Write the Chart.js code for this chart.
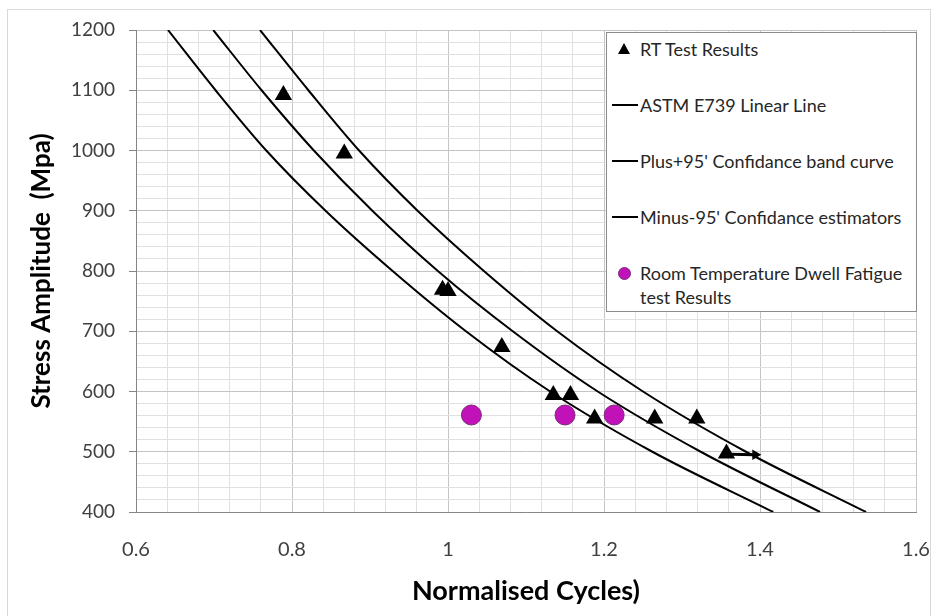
<!DOCTYPE html>
<html>
<head>
<meta charset="utf-8">
<script src="https://cdn.jsdelivr.net/npm/chart.js@4.4.0/dist/chart.umd.min.js"></script>
<style>
  html, body { margin: 0; padding: 0; background: #fff; }
  #wrap { position: relative; width: 933px; height: 616px; overflow: hidden; }
  #frame { position: absolute; left: 7px; top: 9px; width: 922px; height: 640px; border: 1px solid #d9d9d9; }
  #chart { position: absolute; left: 0; top: 0; }
  #legend {
    position: absolute; left: 606px; top: 32px; width: 309px; height: 278px;
    border: 1px solid #8c8c8c; background: #fff;
    font-family: Lato, 'Open Sans', sans-serif; font-size: 18px; color: #262626;
  }
  .item { position: absolute; left: 0; width: 100%; }
  .txt { position: absolute; left: 33px; line-height: 24px; white-space: nowrap; }
  .sym { position: absolute; }
</style>
</head>
<body>
<div id="wrap">
  <div id="frame"></div>
  <canvas id="chart" width="933" height="616"></canvas>
  <div id="legend"></div>
</div>
<script>
/* ─── DATA ─── */
const rtCycles    = [0.789, 0.867, 0.993, 1.000, 1.069, 1.135, 1.157, 1.188, 1.265, 1.319, 1.357];
const rtStress    = [1092, 995, 769, 767, 674, 594, 594, 555, 555, 555, 497];
const dwellCycles = [1.030, 1.150, 1.213];
const dwellStress = [561, 561, 561];

const curveStress = [1200, 1100, 1000, 900, 800, 700, 600, 500, 400];
const meanCycles  = [0.699, 0.761, 0.828, 0.903, 0.987, 1.083, 1.192, 1.324, 1.477];
const plusCycles  = [0.759, 0.821, 0.886, 0.961, 1.046, 1.140, 1.250, 1.382, 1.536];
const minusCycles = [0.641, 0.702, 0.767, 0.843, 0.929, 1.023, 1.131, 1.262, 1.417];

const arrowCycles = [1.362, 1.394];
const arrowStress = [496, 495];

const seriesNames = [
  'RT Test Results',
  'ASTM E739 Linear Line',
  "Plus+95' Confidance band curve",
  "Minus-95' Confidance estimators",
  'Room Temperature Dwell Fatigue test Results'
];

const xTitle = 'Normalised Cycles)';
const yTitle = 'Stress Amplitude  (Mpa)';

/* ─── helpers ─── */
const zip = (xs, ys) => xs.map((x, i) => ({ x, y: ys[i] }));
const isMult = (v, step) => Math.abs(v / step - Math.round(v / step)) < 1e-6;

const FONT = "Lato, 'Open Sans', sans-serif";
Chart.defaults.font.family = FONT;
Chart.defaults.color = '#404040';

const curve = (label, xs) => ({
  type: 'line',
  label,
  data: zip(xs, curveStress),
  borderColor: '#000',
  borderWidth: 2,
  pointRadius: 0,
  cubicInterpolationMode: 'monotone',
  fill: false,
  order: 3,
});

new Chart(document.getElementById('chart'), {
  type: 'scatter',
  data: {
    datasets: [
      {
        label: seriesNames[0],
        data: zip(rtCycles, rtStress),
        pointStyle: 'triangle',
        pointRadius: 10,
        backgroundColor: '#000',
        borderColor: '#000',
        borderWidth: 0,
        order: 2,
      },
      curve(seriesNames[1], meanCycles),
      curve(seriesNames[2], plusCycles),
      curve(seriesNames[3], minusCycles),
      {
        label: seriesNames[4],
        data: zip(dwellCycles, dwellStress),
        pointStyle: 'circle',
        pointRadius: 10,
        backgroundColor: '#c012b8',
        borderColor: '#7b2a7b',
        borderWidth: 1,
        order: 1,
      },
      {
        type: 'line',
        label: 'arrow',
        data: zip(arrowCycles, arrowStress),
        borderColor: '#000',
        borderWidth: 3,
        pointStyle: 'triangle',
        pointRotation: 90,
        pointRadius: [0, 6],
        backgroundColor: '#000',
        pointBorderWidth: 0,
        order: 0,
      },
    ]
  },
  options: {
    responsive: false,
    animation: false,
    devicePixelRatio: 1,
    layout: { padding: { top: 30, right: 17, left: 0, bottom: 0 } },
    plugins: { legend: { display: false }, tooltip: { enabled: false } },
    scales: {
      x: {
        type: 'linear',
        min: 0.6, max: 1.6,
        // fixed axis box so the plot area lands where the reference has it
        afterFit: s => { s.height = 104; s.paddingLeft = 0; s.paddingRight = 0; },
        ticks: {
          stepSize: 0.04,
          autoSkip: false,
          maxRotation: 0,
          padding: 18,
          color: '#404040',
          font: { size: 20 },
          callback: v => isMult(v, 0.2) ? String(Math.round(v * 10) / 10) : '',
        },
        grid: {
          color: c => isMult(c.tick.value, 0.2) ? '#c4c4c4' : '#e0e0e0',
          tickColor: 'transparent',
          tickLength: 8,
        },
        border: { color: '#868686', width: 1 },
        title: {
          display: true,
          text: xTitle,
          color: '#000',
          font: { size: 27, weight: 'bold' },
          padding: { top: 0, bottom: 9 },
        },
      },
      y: {
        type: 'linear',
        min: 400, max: 1200,
        afterFit: s => { s.width = 136; },
        ticks: {
          stepSize: 20,
          autoSkip: false,
          padding: 14,
          color: '#404040',
          font: { size: 19 },
          callback: v => isMult(v, 100) ? String(v) : '',
        },
        grid: {
          color: c => isMult(c.tick.value, 100) ? '#c4c4c4' : '#e0e0e0',
          tickColor: c => isMult(c.tick.value, 100) ? '#868686' : 'transparent',
          tickLength: 7,
        },
        border: { color: '#868686', width: 1 },
        title: {
          display: true,
          text: yTitle,
          color: '#000',
          font: { size: 26, weight: 'bold' },
          padding: { top: 26, bottom: 0 },
        },
      },
    },
  },
});

/* ─── HTML legend ─── */
const legend = document.getElementById('legend');
const rowTop = [4, 60, 116, 172, 228];
const symbols = [
  '<div class="sym" style="left:11px;top:6px;width:0;height:0;border-left:6px solid transparent;border-right:6px solid transparent;border-bottom:11px solid #000;"></div>',
  '<div class="sym" style="left:5px;top:11px;width:26px;height:2px;background:#000;"></div>',
  '<div class="sym" style="left:5px;top:11px;width:26px;height:2px;background:#000;"></div>',
  '<div class="sym" style="left:5px;top:11px;width:26px;height:2px;background:#000;"></div>',
  '<div class="sym" style="left:11px;top:6px;width:13px;height:13px;border-radius:50%;background:#c012b8;border:1px solid #7b2a7b;box-sizing:border-box;"></div>',
];
const legendText = [
  seriesNames[0], seriesNames[1], seriesNames[2], seriesNames[3],
  'Room Temperature Dwell Fatigue<br>test Results'
];
legend.innerHTML = rowTop.map((t, i) =>
  `<div class="item" style="top:${t}px;">${symbols[i]}<div class="txt">${legendText[i]}</div></div>`
).join('');
</script>
</body>
</html>
